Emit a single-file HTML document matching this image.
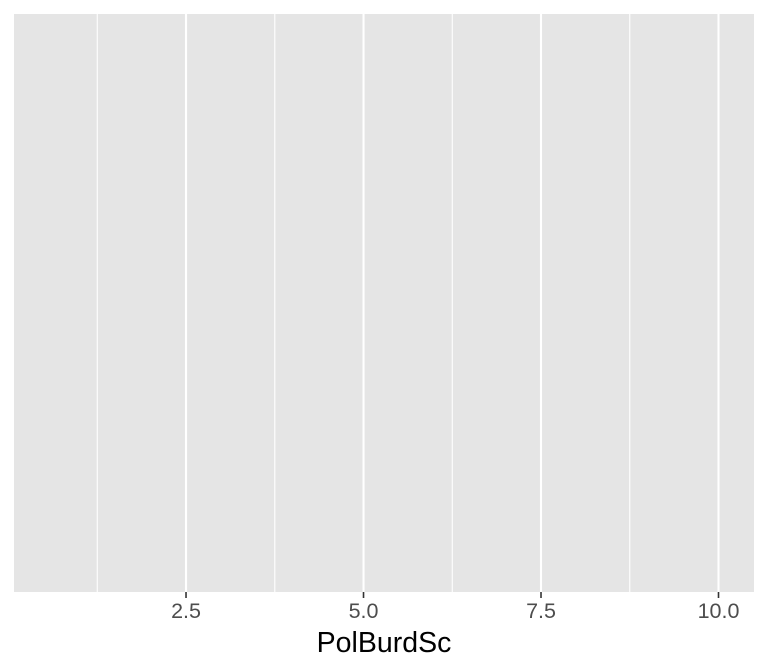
<!DOCTYPE html>
<html><head><meta charset="utf-8">
<style>
html,body{margin:0;padding:0;background:#fff;}
svg{display:block;font-family:"Liberation Sans",Arial,sans-serif;}
</style></head>
<body>
<svg id="chart" width="768" height="672" viewBox="0 0 768 672" xmlns="http://www.w3.org/2000/svg">
<rect x="14" y="14" width="740" height="578" fill="#e5e5e5"/>
<g id="grid"></g>
<g id="xaxis"></g>
<text x="384" y="652" text-anchor="middle" font-size="28.5" fill="#000">PolBurdSc</text>
</svg>
<script>
const xDomain = [0.077, 10.5];
const majorTicks = [2.5, 5.0, 7.5, 10.0];
const tickLabels = ["2.5", "5.0", "7.5", "10.0"];
const minorTicks = [1.25, 3.75, 6.25, 8.75];

const panel = {left: 14, right: 754, top: 14, bottom: 592};
function xScale(v){ return panel.left + (v - xDomain[0]) / (xDomain[1] - xDomain[0]) * (panel.right - panel.left); }
const NS = "http://www.w3.org/2000/svg";
const grid = document.getElementById('grid');
const xaxis = document.getElementById('xaxis');
minorTicks.forEach(v => {
  const l = document.createElementNS(NS, 'line');
  
  
  l.setAttribute('x1', xScale(v)); l.setAttribute('x2', xScale(v));
  l.setAttribute('y1', panel.top); l.setAttribute('y2', panel.bottom);
  l.setAttribute('stroke', '#fff'); l.setAttribute('stroke-width', '1.1');
  grid.appendChild(l);
});
majorTicks.forEach((v, i) => {
  const x = xScale(v);
  const l = document.createElementNS(NS, 'line');
  
  
  l.setAttribute('x1', x); l.setAttribute('x2', x);
  l.setAttribute('y1', panel.top); l.setAttribute('y2', panel.bottom);
  l.setAttribute('stroke', '#fff'); l.setAttribute('stroke-width', '2.1');
  grid.appendChild(l);
  const t = document.createElementNS(NS, 'line');
  
  
  t.setAttribute('x1', x); t.setAttribute('x2', x);
  t.setAttribute('y1', panel.bottom); t.setAttribute('y2', panel.bottom + 6);
  t.setAttribute('stroke', '#333'); t.setAttribute('stroke-width', '1.6');
  xaxis.appendChild(t);
  const tx = document.createElementNS(NS, 'text');
  
  
  tx.setAttribute('x', x); tx.setAttribute('y', 618);
  tx.setAttribute('text-anchor', 'middle');
  tx.setAttribute('font-size', '21.5');
  tx.setAttribute('fill', '#4d4d4d');
  tx.textContent = tickLabels[i];
  xaxis.appendChild(tx);
});
</script>
</body></html>
